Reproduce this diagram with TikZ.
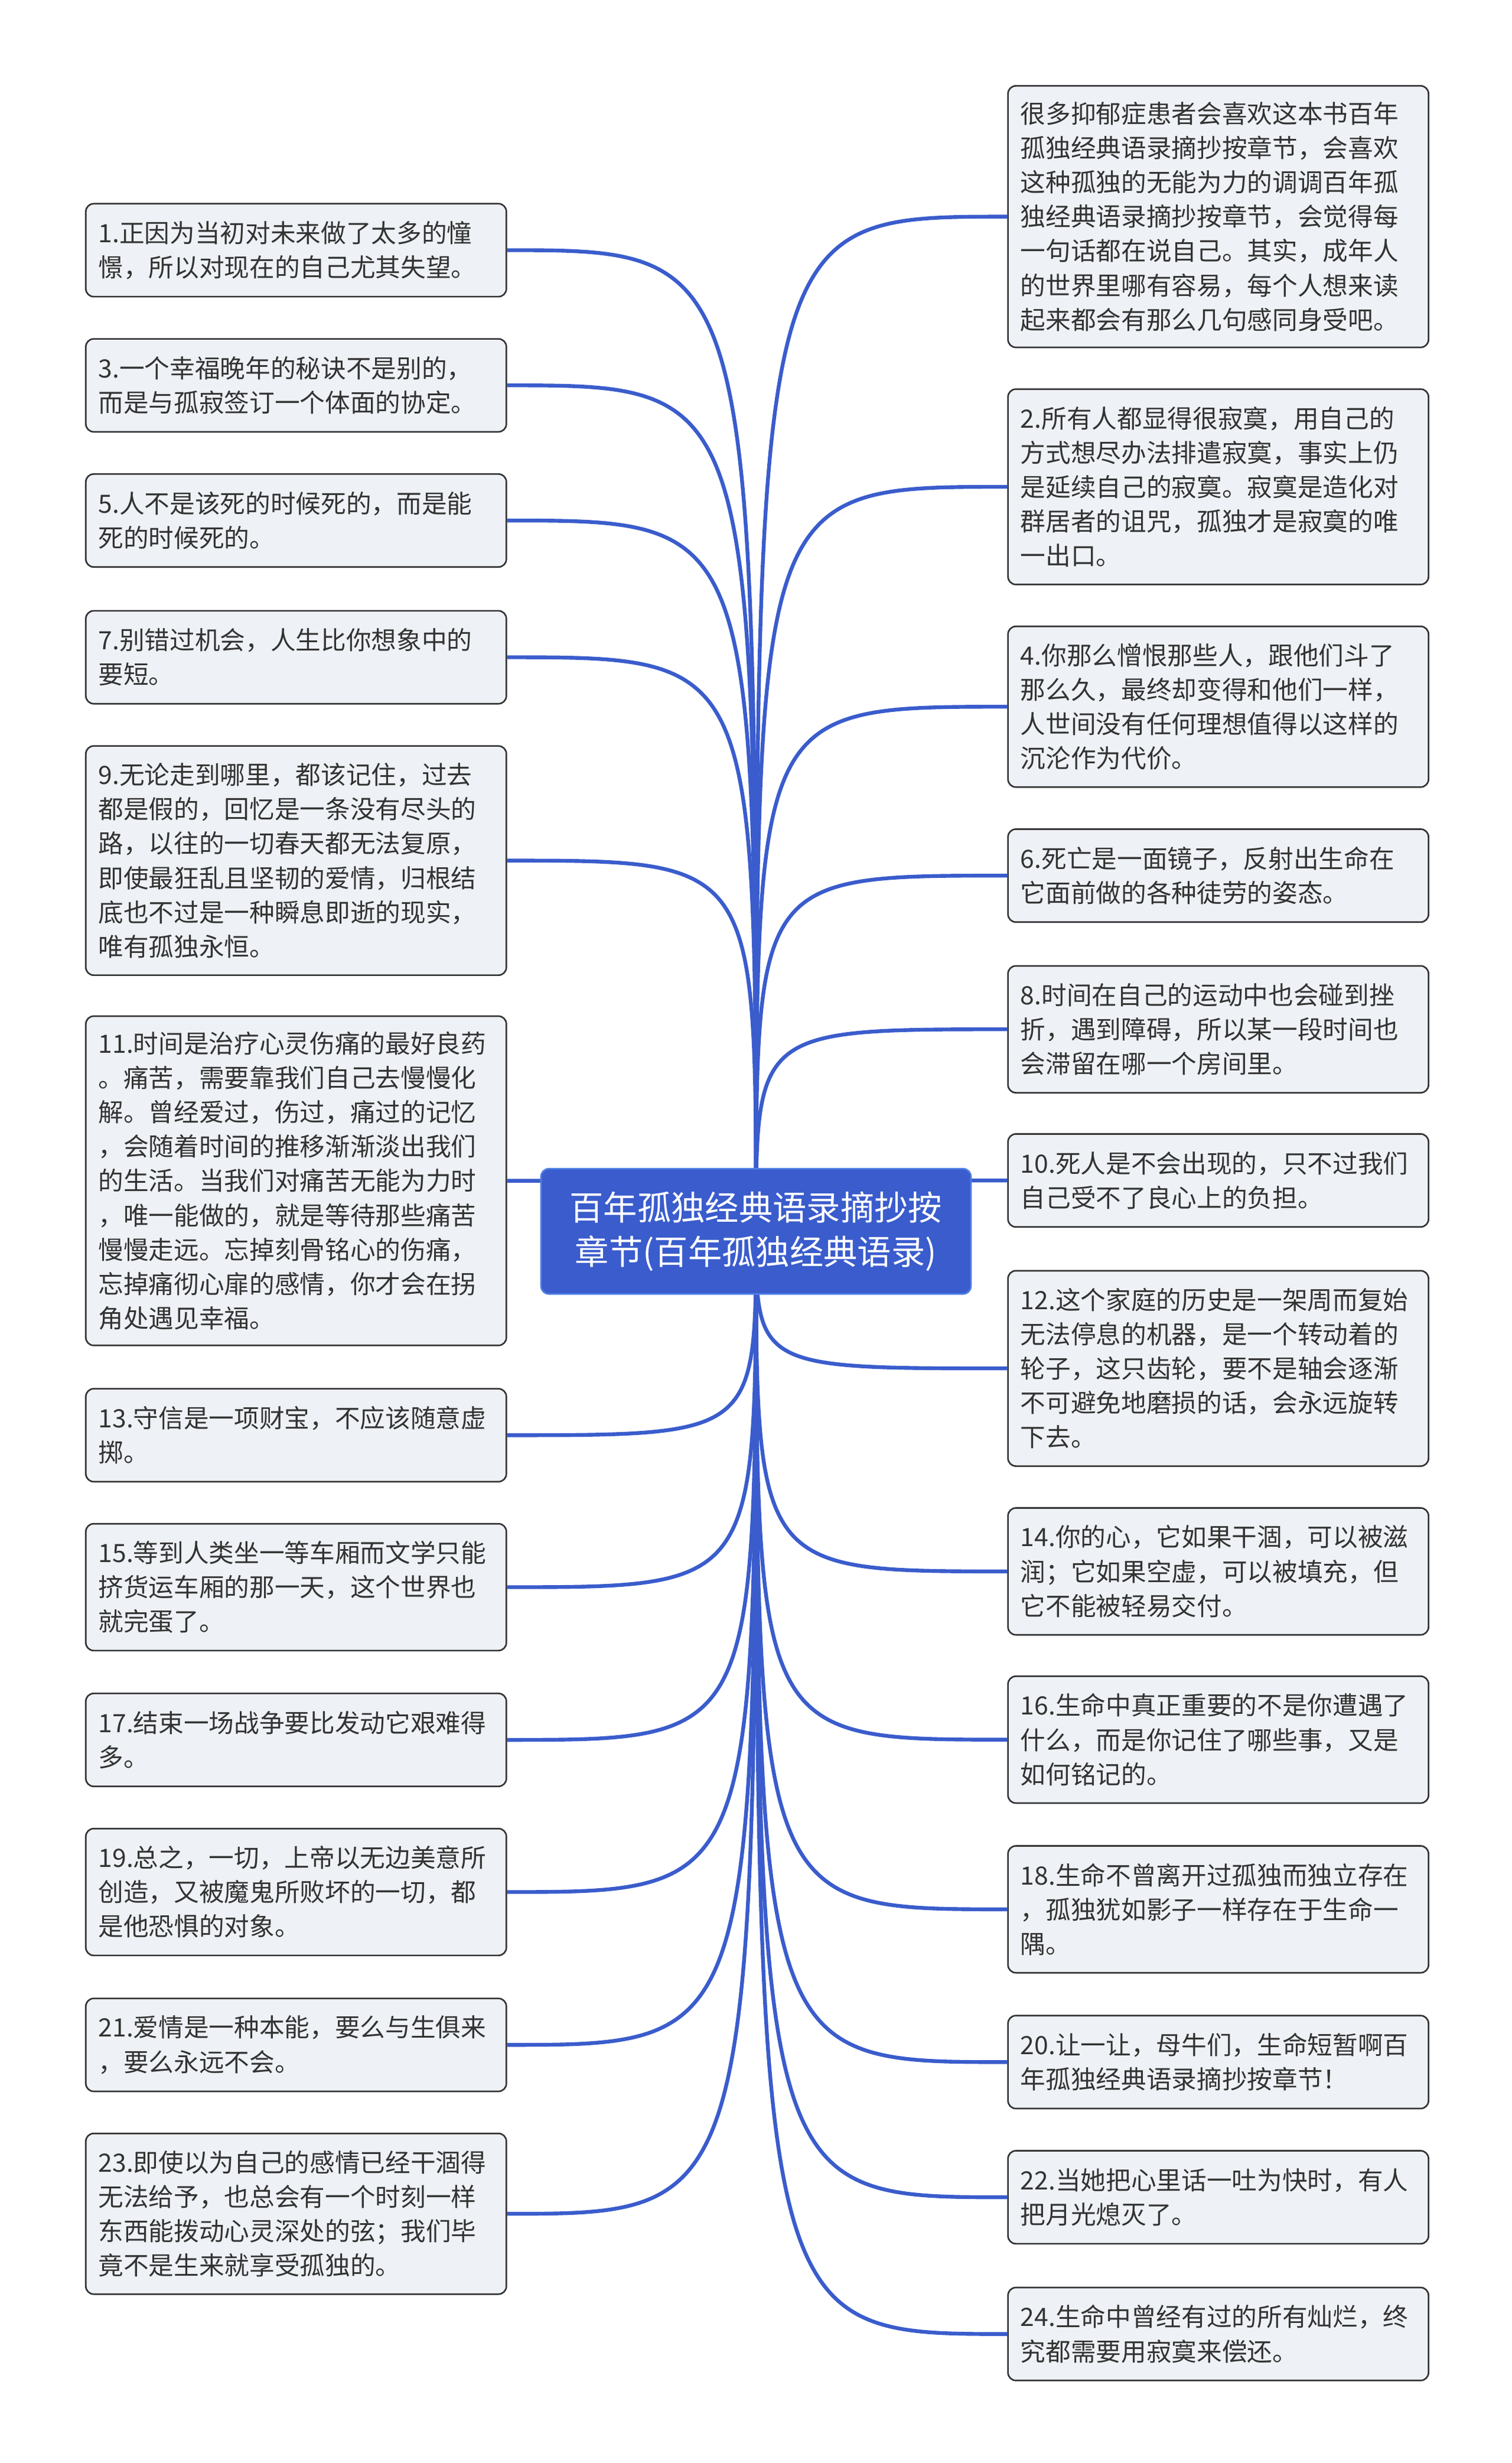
\documentclass[tikz,border=0pt]{standalone}
\usepackage{fontspec}
\newfontfamily\cjk{Noto Sans CJK SC}
\usetikzlibrary{backgrounds}

\definecolor{linkblue}{HTML}{3A5CCC}
\definecolor{rootline}{HTML}{4F7FE6}
\definecolor{leaffill}{HTML}{EEF1F5}
\definecolor{leafline}{HTML}{333333}
\definecolor{leaftext}{HTML}{333333}

\tikzset{
  leaf/.style={draw=leafline, fill=leaffill, rounded corners=5pt, line width=1pt,
    text=leaftext, align=left, text width=251pt, inner xsep=8pt, inner ysep=4pt,
    anchor=north west, font=\cjk\fontsize{16}{21.8}\selectfont},
  root/.style={draw=rootline, fill=linkblue, rounded corners=5pt, line width=1pt,
    text=white, align=center, minimum width=273pt, minimum height=79.5pt,
    font=\cjk\fontsize{21.5}{28}\selectfont},
  branch/.style={draw=linkblue, line width=2.4pt},
}

\begin{document}
\begin{tikzpicture}[x=1pt, y=-1pt]
  \useasboundingbox (0,0) rectangle (960,1563.4);

  \node[root] (root) at (480,781.6) {百年孤独经典语录摘抄按\\章节(百年孤独经典语录)};

  % left column
  \node[leaf, minimum height=59pt] (l1) at (54,128.8) {1.正因为当初对未来做了太多的憧\\憬，所以对现在的自己尤其失望。};
  \node[leaf, minimum height=59pt] (l3) at (54,214.6) {3.一个幸福晚年的秘诀不是别的，\\而是与孤寂签订一个体面的协定。};
  \node[leaf, minimum height=59pt] (l5) at (54,300.4) {5.人不是该死的时候死的，而是能\\死的时候死的。};
  \node[leaf, minimum height=59pt] (l7) at (54,387.2) {7.别错过机会，人生比你想象中的\\要短。};
  \node[leaf, minimum height=145.5pt] (l9) at (54,473) {9.无论走到哪里，都该记住，过去\\都是假的，回忆是一条没有尽头的\\路，以往的一切春天都无法复原，\\即使最狂乱且坚韧的爱情，归根结\\底也不过是一种瞬息即逝的现实，\\唯有孤独永恒。};
  \node[leaf, minimum height=209pt] (l11) at (54,644.5) {11.时间是治疗心灵伤痛的最好良药\\。痛苦，需要靠我们自己去慢慢化\\解。曾经爱过，伤过，痛过的记忆\\，会随着时间的推移渐渐淡出我们\\的生活。当我们对痛苦无能为力时\\，唯一能做的，就是等待那些痛苦\\慢慢走远。忘掉刻骨铭心的伤痛，\\忘掉痛彻心扉的感情，你才会在拐\\角处遇见幸福。};
  \node[leaf, minimum height=59pt] (l13) at (54,881) {13.守信是一项财宝，不应该随意虚\\掷。};
  \node[leaf, minimum height=80.5pt] (l15) at (54,966.7) {15.等到人类坐一等车厢而文学只能\\挤货运车厢的那一天，这个世界也\\就完蛋了。};
  \node[leaf, minimum height=59pt] (l17) at (54,1074.4) {17.结束一场战争要比发动它艰难得\\多。};
  \node[leaf, minimum height=80.5pt] (l19) at (54,1160.2) {19.总之，一切，上帝以无边美意所\\创造，又被魔鬼所败坏的一切，都\\是他恐惧的对象。};
  \node[leaf, minimum height=59pt] (l21) at (54,1268) {21.爱情是一种本能，要么与生俱来\\，要么永远不会。};
  \node[leaf, minimum height=102pt] (l23) at (54,1353.7) {23.即使以为自己的感情已经干涸得\\无法给予，也总会有一个时刻一样\\东西能拨动心灵深处的弦；我们毕\\竟不是生来就享受孤独的。};

  % right column
  \node[leaf, minimum height=166pt] (r0) at (639.5,54) {很多抑郁症患者会喜欢这本书百年\\孤独经典语录摘抄按章节，会喜欢\\这种孤独的无能为力的调调百年孤\\独经典语录摘抄按章节，会觉得每\\一句话都在说自己。其实，成年人\\的世界里哪有容易，每个人想来读\\起来都会有那么几句感同身受吧。};
  \node[leaf, minimum height=124pt] (r2) at (639.5,246.5) {2.所有人都显得很寂寞，用自己的\\方式想尽办法排遣寂寞，事实上仍\\是延续自己的寂寞。寂寞是造化对\\群居者的诅咒，孤独才是寂寞的唯\\一出口。};
  \node[leaf, minimum height=102pt] (r4) at (639.5,397.1) {4.你那么憎恨那些人，跟他们斗了\\那么久，最终却变得和他们一样，\\人世间没有任何理想值得以这样的\\沉沦作为代价。};
  \node[leaf, minimum height=59pt] (r6) at (639.5,525.8) {6.死亡是一面镜子，反射出生命在\\它面前做的各种徒劳的姿态。};
  \node[leaf, minimum height=80.5pt] (r8) at (639.5,612.6) {8.时间在自己的运动中也会碰到挫\\折，遇到障碍，所以某一段时间也\\会滞留在哪一个房间里。};
  \node[leaf, minimum height=59pt] (r10) at (639.5,719.3) {10.死人是不会出现的，只不过我们\\自己受不了良心上的负担。};
  \node[leaf, minimum height=124pt] (r12) at (639.5,806.1) {12.这个家庭的历史是一架周而复始\\无法停息的机器，是一个转动着的\\轮子，这只齿轮，要不是轴会逐渐\\不可避免地磨损的话，会永远旋转\\下去。};
  \node[leaf, minimum height=80.5pt] (r14) at (639.5,956.7) {14.你的心，它如果干涸，可以被滋\\润；它如果空虚，可以被填充，但\\它不能被轻易交付。};
  \node[leaf, minimum height=80.5pt] (r16) at (639.5,1063.5) {16.生命中真正重要的不是你遭遇了\\什么，而是你记住了哪些事，又是\\如何铭记的。};
  \node[leaf, minimum height=80.5pt] (r18) at (639.5,1171.2) {18.生命不曾离开过孤独而独立存在\\，孤独犹如影子一样存在于生命一\\隅。};
  \node[leaf, minimum height=59pt] (r20) at (639.5,1278.9) {20.让一让，母牛们，生命短暂啊百\\年孤独经典语录摘抄按章节！};
  \node[leaf, minimum height=59pt] (r22) at (639.5,1364.7) {22.当她把心里话一吐为快时，有人\\把月光熄灭了。};
  \node[leaf, minimum height=59pt] (r24) at (639.5,1451.5) {24.生命中曾经有过的所有灿烂，终\\究都需要用寂寞来偿还。};

  % branches
  \begin{scope}[on background layer]
    \foreach \n in {l1,l3,l5,l7,l9,l11,l13,l15,l17,l19,l21,l23}
      \draw[branch] (root.center) .. controls (root.center |- \n.east) .. (\n.east);
    \foreach \n in {r0,r2,r4,r6,r8,r10,r12,r14,r16,r18,r20,r22,r24}
      \draw[branch] (root.center) .. controls (root.center |- \n.west) .. (\n.west);
  \end{scope}
\end{tikzpicture}
\end{document}
